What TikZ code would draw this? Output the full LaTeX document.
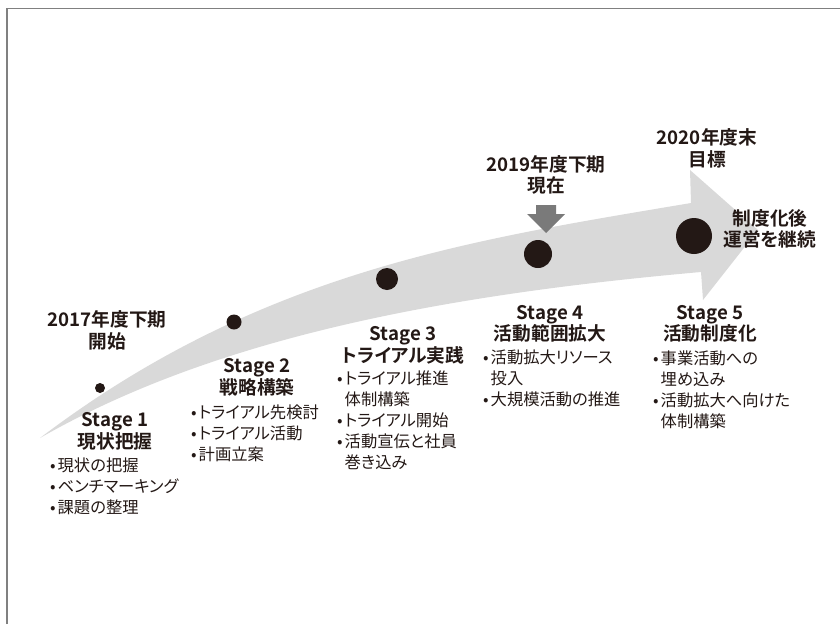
\documentclass[tikz,border=0pt]{standalone}
\usepackage{fontspec}
\setmainfont{Noto Sans CJK JP}[BoldFont={Noto Sans CJK JP Bold}, RawFeature=+palt]
\definecolor{arrowc}{HTML}{D9D9D9}
\definecolor{dotc}{HTML}{231815}
\definecolor{txtc}{HTML}{231815}
\definecolor{markc}{HTML}{7A7A7A}
\definecolor{framec}{HTML}{808080}
\newcommand{\bul}{\makebox[7.5pt][l]{•}}
\newcommand{\ind}{\hspace*{7.5pt}}
\tikzset{
  headtxt/.style={font=\bfseries\fontsize{18.7}{21.5}\selectfont, align=center, text=txtc, inner sep=0pt},
  bodytxt/.style={font=\fontsize{16.3}{20.8}\selectfont, align=left, text=txtc, inner sep=0pt, anchor=north west},
  dotnode/.style={circle, fill=dotc, inner sep=0pt},
}
\begin{document}
\begin{tikzpicture}[x=1pt,y=-1pt]
\useasboundingbox (0,0) rectangle (840,624);
% frame
\draw[framec, line width=1.3pt] (7,624) -- (7,8.5) -- (840,8.5);
% big arrow
\fill[arrowc] (40,438) .. controls (260,271) and (471,240) .. (691,203)
  -- (690,170) -- (758,230) -- (703,300) -- (701,272)
  .. controls (453,294) and (220,335) .. (40,438) -- cycle;
% dots
\node[dotnode, minimum size=10pt] (d1) at (100,388) {};
\node[dotnode, minimum size=15pt] (d2) at (234,322) {};
\node[dotnode, minimum size=22pt] (d3) at (387,279) {};
\node[dotnode, minimum size=28pt] (d4) at (538,254) {};
\node[dotnode, minimum size=36pt] (d5) at (694,236) {};
% current marker
\fill[markc] (536,205) -- (556,205) -- (556,214) -- (565,214) -- (546,233) -- (527,214) -- (536,214) -- cycle;
% labels
\node[headtxt] (t2017) at (107,330.5) {2017年度下期\\開始};
\node[headtxt] (t2019) at (546,175) {2019年度下期\\現在};
\node[headtxt] (t2020) at (707,148.5) {2020年度末\\目標};
\node[headtxt] (tafter) at (770,229) {制度化後\\運営を継続};
\node[headtxt] (s1) at (115,431.5) {Stage 1\\現状把握};
\node[headtxt] (s2) at (257,377.5) {Stage 2\\戦略構築};
\node[headtxt] (s3) at (403,345.5) {Stage 3\\トライアル実践};
\node[headtxt] (s4) at (550,324) {Stage 4\\活動範囲拡大};
\node[headtxt] (s5) at (710,324) {Stage 5\\活動制度化};
\node[bodytxt] (b1) at (50,458) {\bul 現状の把握\\\bul ベンチマーキング\\\bul 課題の整理};
\node[bodytxt] (b2) at (191,405) {\bul トライアル先検討\\\bul トライアル活動\\\bul 計画立案};
\node[bodytxt] (b3) at (337,371) {\bul トライアル推進\\\ind 体制構築\\\bul トライアル開始\\\bul 活動宣伝と社員\\\ind 巻き込み};
\node[bodytxt] (b4) at (483,350) {\bul 活動拡大リソース\\\ind 投入\\\bul 大規模活動の推進};
\node[bodytxt] (b5) at (653,351) {\bul 事業活動への\\\ind 埋め込み\\\bul 活動拡大へ向けた\\\ind 体制構築};
\end{tikzpicture}
\end{document}
